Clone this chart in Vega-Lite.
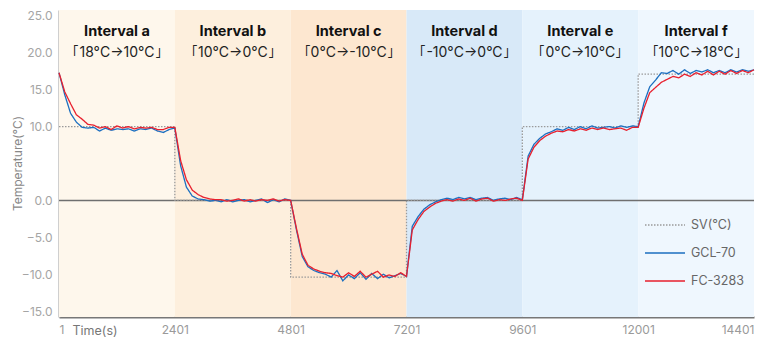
{
  "$schema": "https://vega.github.io/schema/vega-lite/v6.json",
  "width": 695,
  "height": 307,
  "autosize": {"type": "none"},
  "padding": {"left": 59, "top": 10, "right": 10, "bottom": 21},
  "background": "white",
  "config": {
    "font": "Inter",
    "view": {"stroke": null},
    "axis": {"grid": false, "ticks": false, "labelFont": "Inter", "titleFont": "Inter", "labelOverlap": false}
  },
  "datasets": {
    "intervals": [
      {"start": 1, "end": 2401, "name": "Interval a", "range": "｢18°C→10°C｣", "bg": "a"},
      {"start": 2401, "end": 4801, "name": "Interval b", "range": "｢10°C→0°C｣", "bg": "b"},
      {"start": 4801, "end": 7201, "name": "Interval c", "range": "｢0°C→-10°C｣", "bg": "c"},
      {"start": 7201, "end": 9601, "name": "Interval d", "range": "｢-10°C→0°C｣", "bg": "d"},
      {"start": 9601, "end": 12001, "name": "Interval e", "range": "｢0°C→10°C｣", "bg": "e"},
      {"start": 12001, "end": 14401, "name": "Interval f", "range": "｢10°C→18°C｣", "bg": "f"}
    ],
    "sv": [
      {"t": 1, "v": 10, "series": "SV(°C)"},
      {"t": 2401, "v": 0, "series": "SV(°C)"},
      {"t": 4801, "v": -10.4, "series": "SV(°C)"},
      {"t": 7201, "v": 0, "series": "SV(°C)"},
      {"t": 9601, "v": 10, "series": "SV(°C)"},
      {"t": 12001, "v": 17.1, "series": "SV(°C)"},
      {"t": 14401, "v": 17.1, "series": "SV(°C)"}
    ],
    "meas": [
      {"t": 1, "GCL-70": 17.3, "FC-3283": 17.3},
      {"t": 121, "GCL-70": 14.3, "FC-3283": 14.7},
      {"t": 241, "GCL-70": 11.8, "FC-3283": 13.1},
      {"t": 361, "GCL-70": 10.6, "FC-3283": 11.6},
      {"t": 481, "GCL-70": 9.9, "FC-3283": 11.0},
      {"t": 601, "GCL-70": 9.8, "FC-3283": 10.3},
      {"t": 721, "GCL-70": 9.9, "FC-3283": 10.2},
      {"t": 841, "GCL-70": 9.4, "FC-3283": 9.8},
      {"t": 961, "GCL-70": 9.8, "FC-3283": 10.0},
      {"t": 1081, "GCL-70": 9.5, "FC-3283": 9.6},
      {"t": 1201, "GCL-70": 9.7, "FC-3283": 10.1},
      {"t": 1321, "GCL-70": 9.6, "FC-3283": 9.8},
      {"t": 1441, "GCL-70": 9.7, "FC-3283": 10.0},
      {"t": 1561, "GCL-70": 9.4, "FC-3283": 9.7},
      {"t": 1681, "GCL-70": 9.7, "FC-3283": 9.9},
      {"t": 1801, "GCL-70": 9.6, "FC-3283": 9.8},
      {"t": 1921, "GCL-70": 9.8, "FC-3283": 9.9},
      {"t": 2041, "GCL-70": 9.4, "FC-3283": 9.6},
      {"t": 2161, "GCL-70": 9.2, "FC-3283": 9.6},
      {"t": 2281, "GCL-70": 9.6, "FC-3283": 9.9},
      {"t": 2401, "GCL-70": 9.8, "FC-3283": 9.9},
      {"t": 2521, "GCL-70": 4.7, "FC-3283": 5.4},
      {"t": 2641, "GCL-70": 1.8, "FC-3283": 2.8},
      {"t": 2761, "GCL-70": 0.6, "FC-3283": 1.4},
      {"t": 2881, "GCL-70": 0.2, "FC-3283": 0.8},
      {"t": 3001, "GCL-70": 0.1, "FC-3283": 0.4},
      {"t": 3121, "GCL-70": -0.1, "FC-3283": 0.2},
      {"t": 3241, "GCL-70": 0.0, "FC-3283": 0.1},
      {"t": 3361, "GCL-70": -0.2, "FC-3283": 0.1},
      {"t": 3481, "GCL-70": 0.1, "FC-3283": -0.1},
      {"t": 3601, "GCL-70": -0.2, "FC-3283": 0.0},
      {"t": 3721, "GCL-70": 0.0, "FC-3283": 0.2},
      {"t": 3841, "GCL-70": 0.1, "FC-3283": -0.1},
      {"t": 3961, "GCL-70": -0.2, "FC-3283": 0.1},
      {"t": 4081, "GCL-70": 0.0, "FC-3283": -0.1},
      {"t": 4201, "GCL-70": 0.2, "FC-3283": 0.1},
      {"t": 4321, "GCL-70": -0.3, "FC-3283": 0.0},
      {"t": 4441, "GCL-70": 0.1, "FC-3283": 0.2},
      {"t": 4561, "GCL-70": -0.2, "FC-3283": -0.1},
      {"t": 4681, "GCL-70": 0.2, "FC-3283": 0.1},
      {"t": 4801, "GCL-70": 0.0, "FC-3283": 0.0},
      {"t": 4921, "GCL-70": -4.0, "FC-3283": -3.8},
      {"t": 5041, "GCL-70": -7.6, "FC-3283": -7.3},
      {"t": 5161, "GCL-70": -9.0, "FC-3283": -8.8},
      {"t": 5281, "GCL-70": -9.5, "FC-3283": -9.3},
      {"t": 5401, "GCL-70": -9.8, "FC-3283": -9.6},
      {"t": 5521, "GCL-70": -10.0, "FC-3283": -9.8},
      {"t": 5641, "GCL-70": -10.4, "FC-3283": -9.9},
      {"t": 5761, "GCL-70": -9.5, "FC-3283": -10.2},
      {"t": 5881, "GCL-70": -10.9, "FC-3283": -10.4},
      {"t": 6001, "GCL-70": -10.1, "FC-3283": -9.8},
      {"t": 6121, "GCL-70": -10.6, "FC-3283": -10.3},
      {"t": 6241, "GCL-70": -9.8, "FC-3283": -9.6},
      {"t": 6361, "GCL-70": -10.7, "FC-3283": -10.4},
      {"t": 6481, "GCL-70": -9.9, "FC-3283": -10.0},
      {"t": 6601, "GCL-70": -10.6, "FC-3283": -9.6},
      {"t": 6721, "GCL-70": -10.0, "FC-3283": -10.4},
      {"t": 6841, "GCL-70": -10.5, "FC-3283": -10.1},
      {"t": 6961, "GCL-70": -10.2, "FC-3283": -10.3},
      {"t": 7081, "GCL-70": -9.9, "FC-3283": -9.8},
      {"t": 7201, "GCL-70": -10.3, "FC-3283": -10.3},
      {"t": 7321, "GCL-70": -3.5, "FC-3283": -4.0},
      {"t": 7441, "GCL-70": -2.2, "FC-3283": -2.6},
      {"t": 7561, "GCL-70": -1.2, "FC-3283": -1.5},
      {"t": 7681, "GCL-70": -0.6, "FC-3283": -0.9},
      {"t": 7801, "GCL-70": -0.2, "FC-3283": -0.4},
      {"t": 7921, "GCL-70": 0.1, "FC-3283": -0.1},
      {"t": 8041, "GCL-70": 0.3, "FC-3283": 0.1},
      {"t": 8161, "GCL-70": 0.1, "FC-3283": -0.1},
      {"t": 8281, "GCL-70": 0.4, "FC-3283": 0.2},
      {"t": 8401, "GCL-70": 0.2, "FC-3283": 0.0},
      {"t": 8521, "GCL-70": 0.4, "FC-3283": 0.3},
      {"t": 8641, "GCL-70": 0.1, "FC-3283": -0.1},
      {"t": 8761, "GCL-70": 0.3, "FC-3283": 0.2},
      {"t": 8881, "GCL-70": 0.4, "FC-3283": 0.3},
      {"t": 9001, "GCL-70": 0.0, "FC-3283": -0.1},
      {"t": 9121, "GCL-70": 0.2, "FC-3283": 0.1},
      {"t": 9241, "GCL-70": 0.3, "FC-3283": 0.0},
      {"t": 9361, "GCL-70": 0.1, "FC-3283": 0.2},
      {"t": 9481, "GCL-70": 0.4, "FC-3283": 0.3},
      {"t": 9601, "GCL-70": 0.1, "FC-3283": 0.0},
      {"t": 9721, "GCL-70": 6.0, "FC-3283": 5.6},
      {"t": 9841, "GCL-70": 7.6, "FC-3283": 7.2},
      {"t": 9961, "GCL-70": 8.4, "FC-3283": 8.1},
      {"t": 10081, "GCL-70": 9.0, "FC-3283": 8.7},
      {"t": 10201, "GCL-70": 9.3, "FC-3283": 9.1},
      {"t": 10321, "GCL-70": 9.7, "FC-3283": 9.4},
      {"t": 10441, "GCL-70": 9.5, "FC-3283": 9.3},
      {"t": 10561, "GCL-70": 9.9, "FC-3283": 9.6},
      {"t": 10681, "GCL-70": 9.6, "FC-3283": 9.4},
      {"t": 10801, "GCL-70": 10.0, "FC-3283": 9.7},
      {"t": 10921, "GCL-70": 9.7, "FC-3283": 9.5},
      {"t": 11041, "GCL-70": 10.1, "FC-3283": 9.8},
      {"t": 11161, "GCL-70": 9.8, "FC-3283": 9.6},
      {"t": 11281, "GCL-70": 9.9, "FC-3283": 9.8},
      {"t": 11401, "GCL-70": 10.0, "FC-3283": 9.6},
      {"t": 11521, "GCL-70": 9.8, "FC-3283": 9.7},
      {"t": 11641, "GCL-70": 10.1, "FC-3283": 9.8},
      {"t": 11761, "GCL-70": 9.9, "FC-3283": 9.5},
      {"t": 11881, "GCL-70": 10.1, "FC-3283": 9.9},
      {"t": 12001, "GCL-70": 10.0, "FC-3283": 9.9},
      {"t": 12121, "GCL-70": 13.2, "FC-3283": 12.5},
      {"t": 12241, "GCL-70": 15.4, "FC-3283": 14.6},
      {"t": 12361, "GCL-70": 16.3, "FC-3283": 15.3},
      {"t": 12481, "GCL-70": 17.3, "FC-3283": 16.0},
      {"t": 12601, "GCL-70": 17.2, "FC-3283": 16.4},
      {"t": 12721, "GCL-70": 17.6, "FC-3283": 16.8},
      {"t": 12841, "GCL-70": 17.1, "FC-3283": 16.6},
      {"t": 12961, "GCL-70": 17.7, "FC-3283": 17.1},
      {"t": 13081, "GCL-70": 17.2, "FC-3283": 16.8},
      {"t": 13201, "GCL-70": 17.6, "FC-3283": 17.3},
      {"t": 13321, "GCL-70": 17.4, "FC-3283": 17.0},
      {"t": 13441, "GCL-70": 17.7, "FC-3283": 17.5},
      {"t": 13561, "GCL-70": 17.3, "FC-3283": 17.0},
      {"t": 13681, "GCL-70": 17.6, "FC-3283": 17.5},
      {"t": 13801, "GCL-70": 17.3, "FC-3283": 17.1},
      {"t": 13921, "GCL-70": 17.7, "FC-3283": 17.6},
      {"t": 14041, "GCL-70": 17.4, "FC-3283": 17.2},
      {"t": 14161, "GCL-70": 17.7, "FC-3283": 17.6},
      {"t": 14281, "GCL-70": 17.5, "FC-3283": 17.3},
      {"t": 14401, "GCL-70": 17.7, "FC-3283": 17.7}
    ]
  },
  "layer": [
    {
      "data": {"name": "intervals"},
      "mark": {"type": "rect"},
      "encoding": {
        "x": {"field": "start", "type": "quantitative", "scale": {"domain": [1, 14401], "nice": false, "zero": false},
          "axis": {"values": [1, 2401, 4801, 7201, 9601, 12001, 14401], "format": "d", "labelFlush": true, "labelOverlap": false,
            "labelColor": "#9a9a9a", "labelFontSize": 12, "labelPadding": 7,
            "domainColor": "#777777", "domainWidth": 2,
            "title": "Time(s)", "titleColor": "#777777", "titleFontSize": 12.5, "titleFontWeight": "normal",
            "titleAnchor": "start", "titleAlign": "left", "titleBaseline": "top", "titleX": 13, "titleY": 7}},
        "x2": {"field": "end"},
        "y": {"datum": 25.8, "type": "quantitative", "scale": {"domain": [-15.8, 25.8], "nice": false, "zero": false},
          "axis": {"values": [-15, -10, -5, 0, 10, 15, 20, 25], "format": ".1f", "labelOverlap": false,
            "labelColor": "#a5a5a5", "labelFontSize": 12, "labelPadding": 7,
            "domainColor": "#a0a0a0", "domainWidth": 2,
            "title": "Temperature(°C)", "titleColor": "#888888", "titleFontSize": 12, "titleFontWeight": "normal",
            "titleAngle": -90, "titleBaseline": "bottom", "titleX": -35, "titleY": 153}},
        "y2": {"datum": -15.8},
        "fill": {"field": "bg", "type": "nominal", "legend": null,
          "scale": {"domain": ["a", "b", "c", "d", "e", "f"], "range": ["#fef7ec", "#fdefdd", "#fde7d0", "#d8e9f8", "#e5f2fc", "#eff7fe"]}}
      }
    },
    {
      "data": {"values": [{"z": 0}]},
      "mark": {"type": "rule", "color": "#6f6f6f", "strokeWidth": 1.5},
      "encoding": {"y": {"field": "z", "type": "quantitative"}}
    },
    {
      "data": {"name": "sv"},
      "mark": {"type": "line", "interpolate": "step-after", "strokeWidth": 1.3},
      "encoding": {
        "x": {"field": "t", "type": "quantitative"},
        "y": {"field": "v", "type": "quantitative"},
        "color": {"field": "series", "type": "nominal",
          "scale": {"domain": ["SV(°C)", "GCL-70", "FC-3283"], "range": ["#9a9a9a", "#1c6fc0", "#e8202e"]},
          "legend": {"orient": "none", "legendX": 585, "legendY": 194, "title": null, "symbolType": "stroke", "symbolSize": 1600,
            "symbolStrokeWidth": 1.6, "rowPadding": -12.5, "labelOffset": 5, "labelFontSize": 12.5, "labelColor": "#666666", "padding": 0}},
        "strokeDash": {"field": "series", "type": "nominal",
          "scale": {"domain": ["SV(°C)", "GCL-70", "FC-3283"], "range": [[1.5, 1.5], [1, 0], [1, 0]]},
          "legend": {"orient": "none", "legendX": 585, "legendY": 194, "title": null, "symbolType": "stroke", "symbolSize": 1600,
            "symbolStrokeWidth": 1.6, "rowPadding": -12.5, "labelOffset": 5, "labelFontSize": 12.5, "labelColor": "#666666", "padding": 0}}
      }
    },
    {
      "data": {"name": "meas"},
      "transform": [{"fold": ["GCL-70", "FC-3283"], "as": ["series", "temp"]}],
      "mark": {"type": "line", "strokeWidth": 1.3},
      "encoding": {
        "x": {"field": "t", "type": "quantitative"},
        "y": {"field": "temp", "type": "quantitative"},
        "color": {"field": "series", "type": "nominal"},
        "strokeDash": {"field": "series", "type": "nominal"}
      }
    },
    {
      "data": {"name": "intervals"},
      "mark": {"type": "text", "fontWeight": "bold", "fontSize": 14.5, "color": "#111111", "align": "center", "baseline": "middle", "dx": 58},
      "encoding": {
        "x": {"field": "start", "type": "quantitative"},
        "y": {"datum": 22.85},
        "text": {"field": "name"}
      }
    },
    {
      "data": {"name": "intervals"},
      "mark": {"type": "text", "fontSize": 14, "color": "#222222", "align": "center", "baseline": "middle", "dx": 58},
      "encoding": {
        "x": {"field": "start", "type": "quantitative"},
        "y": {"datum": 19.95},
        "text": {"field": "range"}
      }
    }
  ]
}
